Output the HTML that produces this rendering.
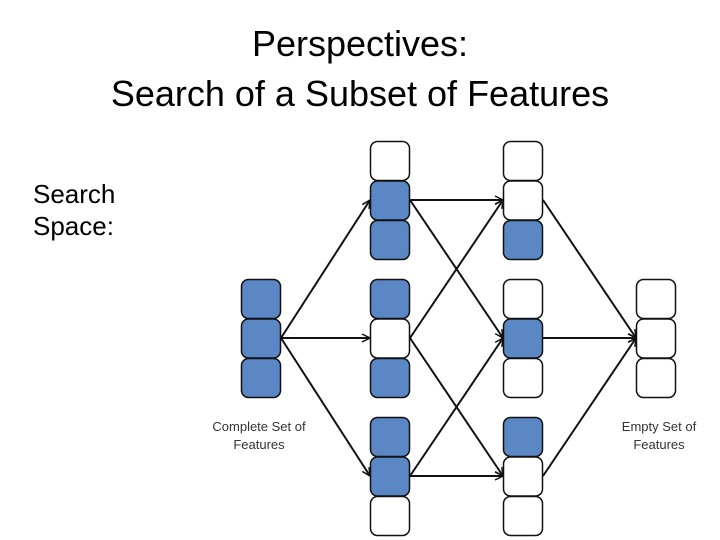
<!DOCTYPE html>
<html><head><style>
body{margin:0;background:#fff;width:720px;height:540px;overflow:hidden;position:relative;font-family:"Liberation Sans",sans-serif}
.t{position:absolute;left:0;width:720px;text-align:center;font-size:36px;color:#000;line-height:40px}
.s{position:absolute;left:33px;font-size:26px;line-height:32px}
</style></head><body>
<div class="t" style="top:24px">Perspectives:</div>
<div class="t" style="top:74px">Search of a Subset of Features</div>
<div class="s" style="top:178px">Search<br>Space:</div>
<svg width="720" height="540" style="position:absolute;left:0;top:0">
<defs><marker id="a" markerWidth="10" markerHeight="10" refX="9" refY="5" orient="auto" markerUnits="userSpaceOnUse"><path d="M1,1 L9,5 L1,9" fill="none" stroke="#111" stroke-width="1.5"/></marker></defs>
<g stroke="#111" stroke-width="2" marker-end="url(#a)">
<line x1="281" y1="338" x2="370" y2="200"/>
<line x1="281" y1="338" x2="370" y2="338"/>
<line x1="281" y1="338" x2="370" y2="476"/>
<line x1="410" y1="200" x2="503" y2="200"/>
<line x1="410" y1="200" x2="503" y2="338"/>
<line x1="410" y1="338" x2="503" y2="200"/>
<line x1="410" y1="338" x2="503" y2="476"/>
<line x1="410" y1="476" x2="503" y2="338"/>
<line x1="410" y1="476" x2="503" y2="476"/>
<line x1="543" y1="200" x2="636" y2="338"/>
<line x1="543" y1="338" x2="636" y2="338"/>
<line x1="543" y1="476" x2="636" y2="338"/>
</g>
<g stroke="#111" stroke-width="1.5">
<!-- col1 -->
<rect x="241.5" y="279.5" width="39" height="39" rx="7" fill="#5b87c5"/>
<rect x="241.5" y="319" width="39" height="39" rx="7" fill="#5b87c5"/>
<rect x="241.5" y="358.5" width="39" height="39" rx="7" fill="#5b87c5"/>
<!-- col2 -->
<rect x="370.5" y="141.5" width="39" height="39" rx="7" fill="#fff"/>
<rect x="370.5" y="181" width="39" height="39" rx="7" fill="#5b87c5"/>
<rect x="370.5" y="220.5" width="39" height="39" rx="7" fill="#5b87c5"/>
<rect x="370.5" y="279.5" width="39" height="39" rx="7" fill="#5b87c5"/>
<rect x="370.5" y="319" width="39" height="39" rx="7" fill="#fff"/>
<rect x="370.5" y="358.5" width="39" height="39" rx="7" fill="#5b87c5"/>
<rect x="370.5" y="417.5" width="39" height="39" rx="7" fill="#5b87c5"/>
<rect x="370.5" y="457" width="39" height="39" rx="7" fill="#5b87c5"/>
<rect x="370.5" y="496.5" width="39" height="39" rx="7" fill="#fff"/>
<!-- col3 -->
<rect x="503.5" y="141.5" width="39" height="39" rx="7" fill="#fff"/>
<rect x="503.5" y="181" width="39" height="39" rx="7" fill="#fff"/>
<rect x="503.5" y="220.5" width="39" height="39" rx="7" fill="#5b87c5"/>
<rect x="503.5" y="279.5" width="39" height="39" rx="7" fill="#fff"/>
<rect x="503.5" y="319" width="39" height="39" rx="7" fill="#5b87c5"/>
<rect x="503.5" y="358.5" width="39" height="39" rx="7" fill="#fff"/>
<rect x="503.5" y="417.5" width="39" height="39" rx="7" fill="#5b87c5"/>
<rect x="503.5" y="457" width="39" height="39" rx="7" fill="#fff"/>
<rect x="503.5" y="496.5" width="39" height="39" rx="7" fill="#fff"/>
<!-- col4 -->
<rect x="636.5" y="279.5" width="39" height="39" rx="7" fill="#fff"/>
<rect x="636.5" y="319" width="39" height="39" rx="7" fill="#fff"/>
<rect x="636.5" y="358.5" width="39" height="39" rx="7" fill="#fff"/>
</g>
<g font-family="Liberation Sans,sans-serif" font-size="13" fill="#333" text-anchor="middle">
<text x="259" y="431">Complete Set of</text>
<text x="259" y="449">Features</text>
<text x="659" y="431">Empty Set of</text>
<text x="659" y="449">Features</text>
</g>
</svg>
</body></html>
